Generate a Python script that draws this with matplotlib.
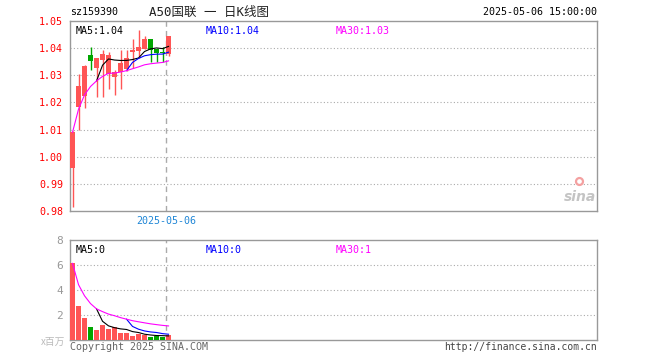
import numpy as np
import pandas as pd
import matplotlib
matplotlib.use("Agg")
import matplotlib.pyplot as plt

# daily K-line data for sz159390
opens = [0.9960, 1.0184, 1.0224, 1.0375, 1.0326, 1.0356, 1.0305, 1.0295,
         1.0313, 1.0322, 1.0387, 1.0390, 1.0396, 1.0434, 1.0396, 1.0387, 1.0378]
highs = [1.0095, 1.0305, 1.0337, 1.0404, 1.0365, 1.0393, 1.0385, 1.0318,
         1.0393, 1.0393, 1.0433, 1.0467, 1.0443, 1.0434, 1.0396, 1.0404, 1.0446]
lows = [0.9816, 1.0098, 1.0181, 1.0319, 1.0221, 1.0221, 1.0250, 1.0227,
        1.0248, 1.0317, 1.0326, 1.0363, 1.0395, 1.0350, 1.0350, 1.0350, 1.0372]
closes = [1.0090, 1.0260, 1.0333, 1.0352, 1.0362, 1.0378, 1.0376, 1.0313,
          1.0344, 1.0363, 1.0394, 1.0405, 1.0432, 1.0392, 1.0381, 1.0381, 1.0446]
# volume in millions
volumes = [6.13, 2.72, 1.76, 1.04, 0.80, 1.17, 0.88, 1.04, 0.56,
           0.56, 0.32, 0.51, 0.37, 0.24, 0.35, 0.27, 0.40]

price_ticks = [0.98, 0.99, 1.00, 1.01, 1.02, 1.03, 1.04, 1.05]
vol_ticks = [2, 4, 6, 8]
price_ma_labels = ["MA5:1.04", "MA10:1.04", "MA30:1.03"]
vol_ma_labels = ["MA5:0", "MA10:0", "MA30:1"]
last_date = "2025-05-06"
stamp = "2025-05-06 15:00:00"

RED = "#ff5555"
GREEN = "#00a600"
MA_COLORS = ["black", "#0000ff", "#ff00ff"]
MONO = ["DejaVu Sans Mono", "Noto Sans CJK SC"]

df = pd.DataFrame({"open": opens, "high": highs, "low": lows,
                   "close": closes, "vol": volumes})
df["up"] = df.close >= df.open
for col in ["close", "vol"]:
    df[col + "_ma5"] = df[col].rolling(5).mean()
    df[col + "_ma10"] = df[col].rolling(10).mean()
    df[col + "_ma30"] = df[col].expanding().mean()
colors = np.where(df.up, RED, GREEN)
x = np.arange(len(df))

W, H = 660, 360
fig = plt.figure(figsize=(6.6, 3.6), dpi=100)


def px_axes(left, top, right, bottom):
    return fig.add_axes([left / W, 1 - bottom / H, (right - left) / W, (bottom - top) / H])


def style(ax):
    for s in ax.spines.values():
        s.set_color("#999999")
        s.set_linewidth(1)
    ax.tick_params(length=0, pad=5)
    ax.set_xticks([])
    ax.set_xlim(-0.42, 87.4)


def ma_texts(ax, labels, y):
    for xf, lab, c in zip([0.01, 0.257, 0.504], labels, MA_COLORS):
        ax.text(xf, y, lab, transform=ax.transAxes, family=MONO,
                fontsize=7.2, color=c, va="top")


ax1 = px_axes(70, 21, 597, 211)
ax2 = px_axes(70, 240, 597, 340)
style(ax1)
style(ax2)

# price panel
ax1.set_ylim(0.98, 1.05)
ax1.set_yticks(price_ticks)
ax1.set_yticklabels(["%.2f" % t for t in price_ticks], color="#ff0000",
                    family=MONO, fontsize=7.2)
for t in price_ticks[1:-1]:
    ax1.axhline(t, color="#aaaaaa", lw=0.8, ls=(0, (1, 2)), zorder=0)

body_h = (df.close - df.open).abs().clip(lower=0.0003)
body_b = df[["open", "close"]].min(axis=1)
ax1.vlines(x, df.low, df.high, colors=colors, lw=1.0, zorder=2)
ax1.bar(x, body_h, bottom=body_b, width=0.83, color=colors, lw=0, zorder=3)
for col, c in zip(["close_ma5", "close_ma10", "close_ma30"], MA_COLORS):
    ax1.plot(x, df[col], color=c, lw=0.8, zorder=4)

vline_x = len(df) - 1 - 0.4
for ax in (ax1, ax2):
    ax.axvline(vline_x, color="#aaaaaa", lw=1, ls=(0, (4, 3)), zorder=1)

ma_texts(ax1, price_ma_labels, 0.975)

# sina mark
ax1.text(0.998, 0.072, "sina", transform=ax1.transAxes, ha="right", va="center",
         fontsize=10, style="italic", weight="bold", color="#c4c4c4")
ax1.plot([0.965], [0.158], "o", ms=5, mfc="none", mec="#f4a0a0", mew=1.6,
         transform=ax1.transAxes)

# volume panel
ax2.set_ylim(0, 8)
ax2.set_yticks(vol_ticks)
ax2.set_yticklabels([str(t) for t in vol_ticks], color="#999999",
                    family=MONO, fontsize=8)
for t in vol_ticks[:-1]:
    ax2.axhline(t, color="#aaaaaa", lw=0.8, ls=(0, (1, 2)), zorder=0)
ax2.bar(x, df.vol, width=0.83, color=colors, lw=0, zorder=3)
for col, c in zip(["vol_ma5", "vol_ma10", "vol_ma30"], MA_COLORS):
    ax2.plot(x, df[col], color=c, lw=0.8, zorder=4)

ma_texts(ax2, vol_ma_labels, 0.95)

# header and footer texts
fig.text(70 / W, 1 - 12 / H, "sz159390", family=MONO, fontsize=7.2, va="center")
fig.text(209 / W, 1 - 12 / H, "A50国联 一 日K线图", family=MONO, fontsize=9,
         va="center", ha="center", color="#222222")
fig.text(597 / W, 1 - 12 / H, stamp, family=MONO, fontsize=7.2, va="center", ha="right")
fig.text(166 / W, 1 - 221 / H, last_date, family=MONO, fontsize=7.2, va="center",
         ha="center", color="#1f86d6")
fig.text(65 / W, 1 - 342 / H, "x百万", family=["Noto Sans CJK SC"], fontsize=7,
         va="center", ha="right", color="#bbbbbb")
fig.text(70 / W, 1 - 347 / H, "Copyright 2025 SINA.COM", family=MONO, fontsize=7.2,
         va="center", color="#666666")
fig.text(597 / W, 1 - 347 / H, "http://finance.sina.com.cn", family=MONO, fontsize=7,
         va="center", ha="right", color="#444444")

fig.savefig("out.png", dpi=100)
